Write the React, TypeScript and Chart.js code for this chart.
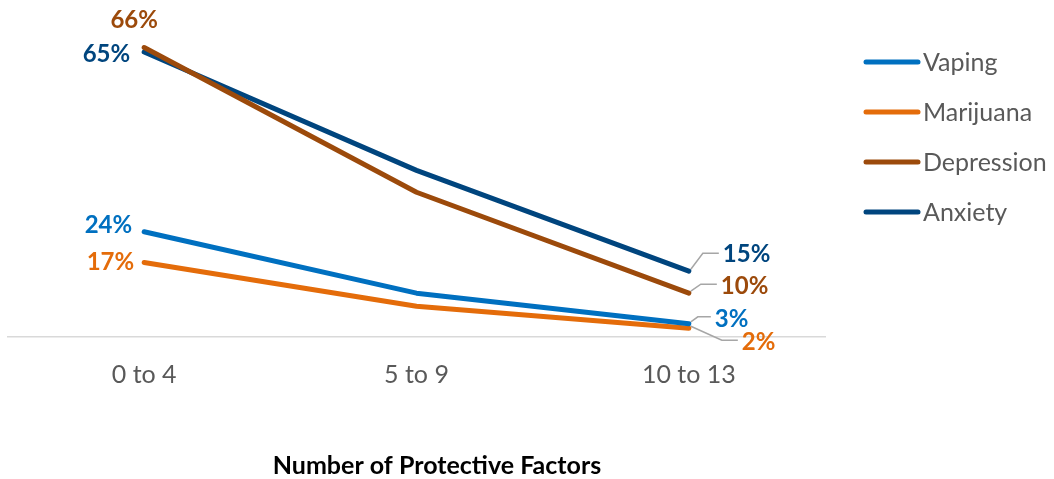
import React, { useEffect, useRef } from "react";
import { Chart, registerables } from "chart.js";

Chart.register(...registerables);

const categories = ["0 to 4", "5 to 9", "10 to 13"];
const seriesNames = ["Vaping", "Marijuana", "Depression", "Anxiety"];
const vaping = [24, 10, 3];
const marijuana = [17, 7, 2];
const depression = [66, 33, 10];
const anxiety = [65, 38, 15];
const seriesColors = ["#0070C0", "#E46C0A", "#9C4A0B", "#00457E"];
const axisTitle = "Number of Protective Factors";

const FONT = "Lato, 'Open Sans', sans-serif";

// Start-label offsets per series: [dx, dy, textAlign]
const startOffsets: [number, number, string][] = [
  [-12, -6, "right"],
  [-10, 0, "right"],
  [-10, -27, "center"],
  [-14, 2, "right"],
];
// End-label leader elbow and text offsets per series
const endLabel: { elbow: [number, number]; text: [number, number] }[] = [
  { elbow: [9, -7], text: [26, -5] },
  { elbow: [33, 12], text: [53, 14] },
  { elbow: [12, -9], text: [32, -7] },
  { elbow: [14, -18], text: [34, -17] },
];

const labelPlugin = {
  id: "valueLabels",
  afterDatasetsDraw(chart: any) {
    const ctx = chart.ctx;
    ctx.save();
    ctx.font = `bold 24px ${FONT}`;
    ctx.textBaseline = "middle";
    chart.data.datasets.forEach((ds: any, i: number) => {
      const meta = chart.getDatasetMeta(i);
      const first = meta.data[0];
      const last = meta.data[meta.data.length - 1];
      const [dx, dy, align] = startOffsets[i];
      ctx.fillStyle = seriesColors[i];
      ctx.textAlign = align;
      ctx.fillText(`${ds.data[0]}%`, first.x + dx, first.y + dy);

      const e = endLabel[i];
      ctx.strokeStyle = "#A6A6A6";
      ctx.lineWidth = 1.5;
      ctx.beginPath();
      ctx.moveTo(last.x + 2, last.y - 2);
      ctx.lineTo(last.x + e.elbow[0], last.y + e.elbow[1]);
      ctx.lineTo(last.x + e.text[0] - 4, last.y + e.elbow[1]);
      ctx.stroke();
      ctx.textAlign = "left";
      ctx.fillText(`${ds.data[ds.data.length - 1]}%`, last.x + e.text[0], last.y + e.text[1]);
    });
    ctx.restore();
  },
};

const legendPlugin = {
  id: "sideLegend",
  afterDraw(chart: any) {
    const ctx = chart.ctx;
    ctx.save();
    ctx.font = `25px ${FONT}`;
    ctx.textBaseline = "middle";
    ctx.textAlign = "left";
    chart.data.datasets.forEach((ds: any, i: number) => {
      const y = 62 + i * 50;
      ctx.strokeStyle = ds.borderColor;
      ctx.lineWidth = 5;
      ctx.lineCap = "round";
      ctx.beginPath();
      ctx.moveTo(866, y);
      ctx.lineTo(918, y);
      ctx.stroke();
      ctx.fillStyle = "#595959";
      ctx.fillText(ds.label, 923, y + 1);
    });
    // axis title, centred under the plot and legend block
    ctx.font = `bold 25px ${FONT}`;
    ctx.fillStyle = "#000000";
    ctx.textAlign = "center";
    ctx.fillText(axisTitle, 437, 466);
    ctx.restore();
  },
};

export default function App() {
  const canvasRef = useRef<HTMLCanvasElement | null>(null);

  useEffect(() => {
    document.body.style.margin = "0";
    const seriesData = [vaping, marijuana, depression, anxiety];
    const chart = new Chart(canvasRef.current!, {
      type: "line",
      data: {
        labels: categories,
        datasets: seriesNames.map((name, i) => ({
          label: name,
          data: seriesData[i],
          borderColor: seriesColors[i],
          backgroundColor: seriesColors[i],
          borderWidth: 5,
          borderCapStyle: "round",
          borderJoinStyle: "round",
          pointRadius: 0,
          tension: 0,
        })),
      },
      options: {
        animation: false,
        responsive: false,
        layout: { padding: { left: 8, right: 229, top: 30, bottom: 0 } },
        plugins: { legend: { display: false }, tooltip: { enabled: false } },
        scales: {
          x: {
            offset: true,
            grid: { display: false, drawTicks: false, tickLength: 0 },
            border: { display: true, color: "#D9D9D9", width: 1.5 },
            ticks: { color: "#595959", font: { family: FONT, size: 25 }, padding: 23 },
            afterFit(scale: any) {
              scale.height = 142;
            },
          },
          y: { display: false, min: 0, max: 70 },
        },
      },
      plugins: [labelPlugin, legendPlugin],
    });
    return () => chart.destroy();
  }, []);

  return (
    <div style={{ position: "absolute", left: 0, top: 0, width: 1054, height: 479 }}>
      <canvas ref={canvasRef} width={1054} height={479} />
    </div>
  );
}
